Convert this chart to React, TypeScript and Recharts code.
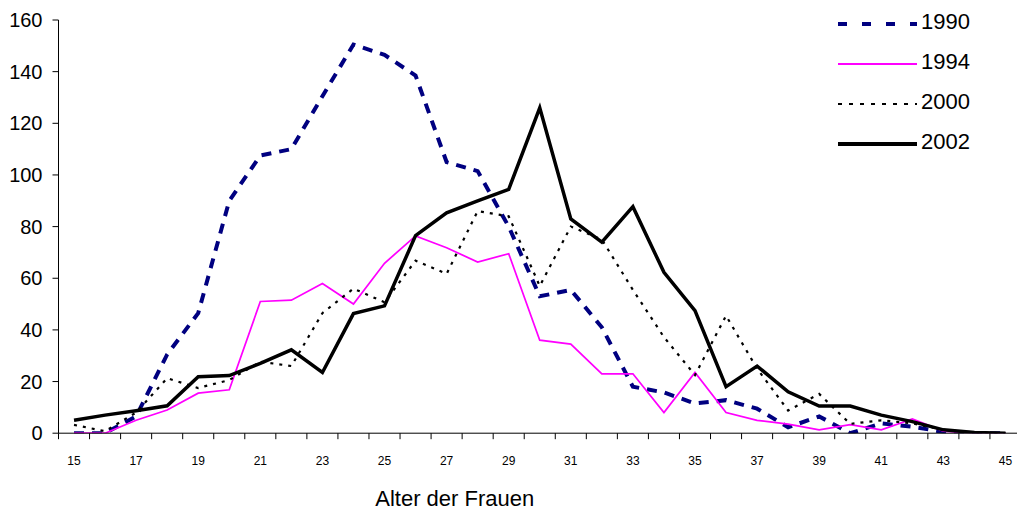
import React from 'react';
import { LineChart, Line, XAxis, YAxis, Legend, Label } from 'recharts';

// Age of women (categories)
const ages = [15, 16, 17, 18, 19, 20, 21, 22, 23, 24, 25, 26, 27, 28, 29, 30, 31, 32, 33, 34, 35, 36, 37, 38, 39, 40, 41, 42, 43, 44, 45];

// Series values
const values1990 = [0, 0, 6.5, 30.5, 46.5, 90, 107.5, 110, 130.5, 150.5, 146.5, 138.5, 105, 101.5, 80, 53, 55.5, 41, 18, 15.8, 11.5, 12.8, 9.5, 2.3, 6.5, 0, 3.8, 2.5, 0.5, 0, 0];
const values1994 = [0, 0, 5, 9, 15.5, 16.8, 51, 51.5, 58, 50, 65.8, 76.4, 71.8, 66.3, 69.5, 36, 34.5, 23, 23, 8, 23.5, 8, 5, 3.5, 1.3, 3.3, 1.3, 5.5, 0.8, 0, 0];
const values2000 = [3.2, 0.8, 8, 21.3, 17.5, 20.6, 27.7, 26, 46.5, 56, 50.7, 66.8, 61.7, 86, 84, 57, 80, 75, 55.5, 37.2, 22.5, 45.5, 25, 8.8, 15.2, 3.6, 5, 3.8, 1.3, 0.3, 0];
const values2002 = [5, 7, 8.7, 10.6, 21.9, 22.3, 27, 32.3, 23.5, 46.3, 49.3, 76.5, 85.3, 90, 94.4, 126, 83, 74, 87.7, 62.3, 47.5, 18, 26, 16, 10.5, 10.5, 7, 4.5, 1.3, 0.3, 0];

// Tick labels
const yTicks = [0, 20, 40, 60, 80, 100, 120, 140, 160];
const xLabelTicks = [15, 17, 19, 21, 23, 25, 27, 29, 31, 33, 35, 37, 39, 41, 43, 45];
const seriesNames = ['1990', '1994', '2000', '2002'];
const axisTitle = 'Alter der Frauen';

const xBoundaryTicks = [...ages.map((a) => a - 0.5), ages[ages.length - 1] + 0.5];
const xDomain: [number, number] = [ages[0] - 0.5, ages[ages.length - 1] + 0.5];

const data = ages.map((age, i) => ({
  age,
  s1990: values1990[i],
  s1994: values1994[i],
  s2000: values2000[i],
  s2002: values2002[i],
}));

const seriesStyles = [
  { key: 's1990', color: '#000080', width: 4, dash: '10 8', legendDash: '9 15', legendWidth: 4 },
  { key: 's1994', color: '#ff00ff', width: 1.75, dash: undefined, legendDash: undefined, legendWidth: 2 },
  { key: 's2000', color: '#000000', width: 2.2, dash: '3 6', legendDash: '4 7', legendWidth: 2 },
  { key: 's2002', color: '#000000', width: 3.5, dash: undefined, legendDash: undefined, legendWidth: 4 },
];

const FONT = '"Liberation Sans", Arial, Helvetica, sans-serif';

const renderLegend = () => (
  <svg width={200} height={170} style={{ fontFamily: FONT, display: 'block' }}>
    {seriesStyles.map((s, i) => {
      const y = 24 + i * 40;
      return (
        <g key={s.key}>
          <line
            x1={18}
            x2={97}
            y1={y}
            y2={y}
            stroke={s.color}
            strokeWidth={s.legendWidth}
            strokeDasharray={s.legendDash}
          />
          <text x={101} y={y - 2.3} dy="0.35em" fontSize={22} fill="#000">
            {seriesNames[i]}
          </text>
        </g>
      );
    })}
  </svg>
);

export default function App() {
  return (
    <div
      style={{
        position: 'absolute',
        left: 0,
        top: 0,
        width: 1017,
        height: 510,
        overflow: 'hidden',
        background: '#fff',
        fontFamily: FONT,
      }}
    >
      <LineChart
        width={1030}
        height={510}
        data={data}
        margin={{ top: 20, right: 9, bottom: 0, left: 0 }}
        style={{ fontFamily: FONT }}
      >
        <XAxis
          xAxisId="axTicks"
          type="number"
          dataKey="age"
          domain={xDomain}
          ticks={xBoundaryTicks}
          interval={0}
          allowDataOverflow
          tickFormatter={() => ''}
          tickSize={6}
          height={1}
          stroke="#000"
          tickLine={{ stroke: '#000' }}
          axisLine={{ stroke: '#000' }}
        />
        <XAxis
          xAxisId="bxLabels"
          type="number"
          dataKey="age"
          domain={xDomain}
          ticks={xLabelTicks}
          interval={0}
          allowDataOverflow
          axisLine={false}
          tickLine={false}
          tickSize={0}
          tickMargin={22.3}
          height={75.8}
          tick={{ fontSize: 12, fill: '#000', fontFamily: FONT }}
        >
          <Label
            value={axisTitle}
            position="insideBottom"
            offset={4}
            dx={-85}
            fontSize={22}
            fill="#000"
            fontFamily={FONT}
          />
        </XAxis>
        <YAxis
          type="number"
          domain={[0, 160]}
          ticks={yTicks}
          interval={0}
          allowDataOverflow
          width={58.5}
          tickSize={6}
          tickMargin={10}
          stroke="#000"
          tickLine={{ stroke: '#000' }}
          axisLine={{ stroke: '#000' }}
          tick={{ fontSize: 20, fill: '#000', fontFamily: FONT }}
        />
        <Legend
          layout="vertical"
          align="center"
          verticalAlign="middle"
          content={renderLegend}
          wrapperStyle={{ left: 820, top: 0, width: 200, height: 170 }}
        />
        {seriesStyles.map((s, i) => (
          <Line
            key={s.key}
            xAxisId="axTicks"
            type="linear"
            dataKey={s.key}
            name={seriesNames[i]}
            stroke={s.color}
            strokeWidth={s.width}
            strokeDasharray={s.dash}
            dot={false}
            activeDot={false}
            isAnimationActive={false}
          />
        ))}
      </LineChart>
    </div>
  );
}
